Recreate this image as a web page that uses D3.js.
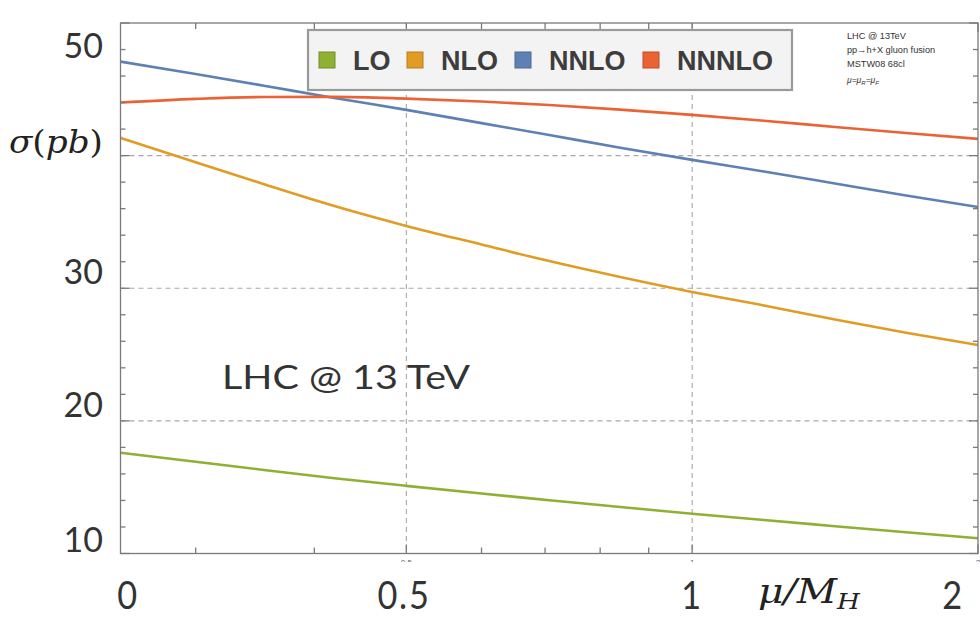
<!DOCTYPE html>
<html><head><meta charset="utf-8">
<script src="https://cdn.jsdelivr.net/npm/d3@7"></script>
<style>html,body{margin:0;padding:0;background:#fff;}svg{display:block;}</style>
</head><body>
<svg id="c" width="980" height="617"></svg>
<script>
// ---- data ----
const mu = [0.25, 0.3, 0.354, 0.42, 0.5, 0.6, 0.707, 0.84, 1, 1.19, 1.414, 1.68, 2];
const LO    = [17.6, 16.92, 16.3, 15.68, 15.1, 14.52, 14.02, 13.5, 13.0, 12.52, 12.06, 11.6, 11.15];
const NLO   = [41.34, 39.5, 37.85, 36.2, 34.7, 33.3, 32.05, 30.85, 29.72, 28.7, 27.65, 26.65, 25.72];
const NNLO  = [47.09, 46.15, 45.27, 44.35, 43.45, 42.45, 41.55, 40.6, 39.68, 38.8, 37.9, 37.0, 36.13];
const NNNLO = [44.0, 44.28, 44.42, 44.43, 44.3, 44.08, 43.82, 43.47, 43.07, 42.63, 42.16, 41.7, 41.26];
const seriesNames = ["LO", "NLO", "NNLO", "NNNLO"];
const seriesColors = ["#8FB032", "#E19C24", "#5E81B5", "#EB6235"];
const seriesValues = [LO, NLO, NNLO, NNNLO];
const xMajor = [0.5, 1, 2];
const xMinor = [0.3, 0.4, 0.6, 0.7, 0.8, 0.9];
const xTickLabels = ["0", "0.5", "1", "2"];
const xTickLabelVals = [0.25, 0.5, 1, 2];
const yMajor = [10, 20, 30, 40, 50];
const yMinor = d3.range(12, 50, 2).filter(v => v % 10 !== 0);
const yTickLabels = ["50", "30", "20", "10"];
const yTickLabelVals = [50, 30, 20, 10];
const gridX = [0.5, 1];
const gridY = [20, 30, 40];
const infoLines = ["LHC @ 13TeV", "pp\u2192h+X gluon fusion", "MSTW08 68cl"];

// ---- layout ----
const L = 120.5, R = 978, T = 23, B = 553.5;
const svg = d3.select("#c");
const x = d3.scaleLog().base(2).domain([0.25, 2]).range([L, R]);
const y = d3.scaleLinear().domain([10, 50]).range([B, T]);

// grid
const grid = svg.append("g").attr("stroke", "#a8a8a8").attr("stroke-width", 1.1).attr("stroke-dasharray", "5,4");
grid.selectAll(".gx").data(gridX).join("line")
  .attr("x1", d => x(d)).attr("x2", d => x(d)).attr("y1", T).attr("y2", B);
grid.selectAll(".gy").data(gridY).join("line")
  .attr("x1", L).attr("x2", R).attr("y1", d => y(d)).attr("y2", d => y(d));

// curves
const line = d3.line().x(d => x(d[0])).y(d => y(d[1])).curve(d3.curveMonotoneX);
seriesValues.forEach((vals, i) => {
  svg.append("path")
    .datum(mu.map((m, j) => [m, vals[j]]))
    .attr("d", line).attr("fill", "none")
    .attr("stroke", seriesColors[i]).attr("stroke-width", 2.6);
});

// frame and ticks
const ax = svg.append("g").attr("stroke", "#7a7a7a").attr("stroke-width", 1.3);
ax.append("rect").attr("x", L).attr("y", T).attr("width", R - L).attr("height", B - T).attr("fill", "none");
const yt = (vals, len) => {
  ax.selectAll(null).data(vals).join("line")
    .attr("x1", L).attr("x2", L + len).attr("y1", d => y(d)).attr("y2", d => y(d));
  ax.selectAll(null).data(vals).join("line")
    .attr("x1", R).attr("x2", R - len).attr("y1", d => y(d)).attr("y2", d => y(d));
};
yt(yMajor, 9); yt(yMinor, 5);
const xt = (vals, len) => {
  ax.selectAll(null).data(vals).join("line")
    .attr("x1", d => x(d)).attr("x2", d => x(d)).attr("y1", B).attr("y2", B - len);
  ax.selectAll(null).data(vals).join("line")
    .attr("x1", d => x(d)).attr("x2", d => x(d)).attr("y1", T).attr("y2", T + len);
};
xt(xMajor, 9); xt(xMinor, 6);

// tiny clipped original tick labels
svg.append("clipPath").attr("id", "clipt").append("rect").attr("x", 0).attr("y", 557).attr("width", 980).attr("height", 5);
svg.append("g").attr("clip-path", "url(#clipt)")
  .selectAll("text").data([0.5, 1, 2]).join("text")
  .attr("x", d => x(d)).attr("y", 565).attr("text-anchor", "middle")
  .attr("font-family", "Liberation Sans, Arial").attr("font-size", 8).attr("fill", "#666")
  .text(d => d);

// legend
const lg = svg.append("g");
lg.append("rect").attr("x", 308).attr("y", 30).attr("width", 484).attr("height", 60)
  .attr("fill", "#f3f3f3").attr("stroke", "#9a9a9a").attr("stroke-width", 2.2);
const legX = [319, 407, 515, 643];
seriesNames.forEach((n, i) => {
  lg.append("rect").attr("x", legX[i]).attr("y", 52).attr("width", 16).attr("height", 16)
    .attr("fill", seriesColors[i]).attr("stroke", d3.color(seriesColors[i]).darker(0.6)).attr("stroke-width", 1);
  lg.append("text").attr("x", legX[i] + 34).attr("y", 70)
    .attr("font-family", "Liberation Sans, Arial, sans-serif").attr("font-weight", "bold")
    .attr("font-size", 27).attr("fill", "#3d3d3d").text(n);
});

// info block top right
const info = svg.append("g").attr("font-family", "Liberation Sans, Arial, sans-serif").attr("font-size", 9.2).attr("fill", "#333");
infoLines.forEach((t, i) => {
  info.append("text").attr("x", 847).attr("y", 39 + i * 14).text(t);
});
const mt = info.append("text").attr("x", 847).attr("y", 83).attr("font-size", 8.5).attr("font-style", "italic");
mt.append("tspan").text("\u03bc=\u03bc");
mt.append("tspan").attr("dy", 2).attr("font-size", 6).text("R");
mt.append("tspan").attr("dy", -2).text("=\u03bc");
mt.append("tspan").attr("dy", 2).attr("font-size", 6).text("F");

// big overlay labels
const big = svg.append("g").attr("font-family", "Lato, 'Open Sans', sans-serif").attr("fill", "#333");
const yLabPos = {50: 58, 30: 284, 20: 417, 10: 552};
yTickLabels.forEach((t, i) => {
  big.append("text").attr("x", 103).attr("y", yLabPos[yTickLabelVals[i]])
    .attr("text-anchor", "end").attr("font-size", 34).text(t);
});
const xLabPos = [128, 404, 692, 953];
xTickLabels.forEach((t, i) => {
  big.append("text")
    .attr("transform", `translate(${xLabPos[i]},609) scale(0.88,1)`)
    .attr("text-anchor", "middle").attr("font-size", 39).attr("letter-spacing", 2)
    .attr("font-family", "Lato, 'Open Sans', sans-serif")
    .text(t);
});
big.append("text").attr("x", 222).attr("y", 389).attr("font-size", 32)
  .attr("textLength", 248).attr("lengthAdjust", "spacingAndGlyphs").text("LHC @ 13 TeV");

// axis titles
const sig = svg.append("text").attr("x", 9).attr("y", 153)
  .attr("font-family", "'DejaVu Serif', 'Liberation Serif', serif").attr("font-size", 31).attr("fill", "#222")
  .attr("textLength", 94).attr("lengthAdjust", "spacingAndGlyphs");
sig.append("tspan").attr("font-style", "italic").text("\u03c3");
sig.append("tspan").text("(");
sig.append("tspan").attr("font-style", "italic").text("pb");
sig.append("tspan").text(")");

const mx = svg.append("text").attr("x", 758).attr("y", 603)
  .attr("font-family", "'DejaVu Serif', 'Liberation Serif', serif").attr("font-size", 33).attr("fill", "#222").attr("font-style", "italic")
  .attr("textLength", 102).attr("lengthAdjust", "spacingAndGlyphs");
mx.append("tspan").text("\u03bc/M");
mx.append("tspan").attr("dy", 6).attr("font-size", 22).text("H");
</script>
</body></html>
